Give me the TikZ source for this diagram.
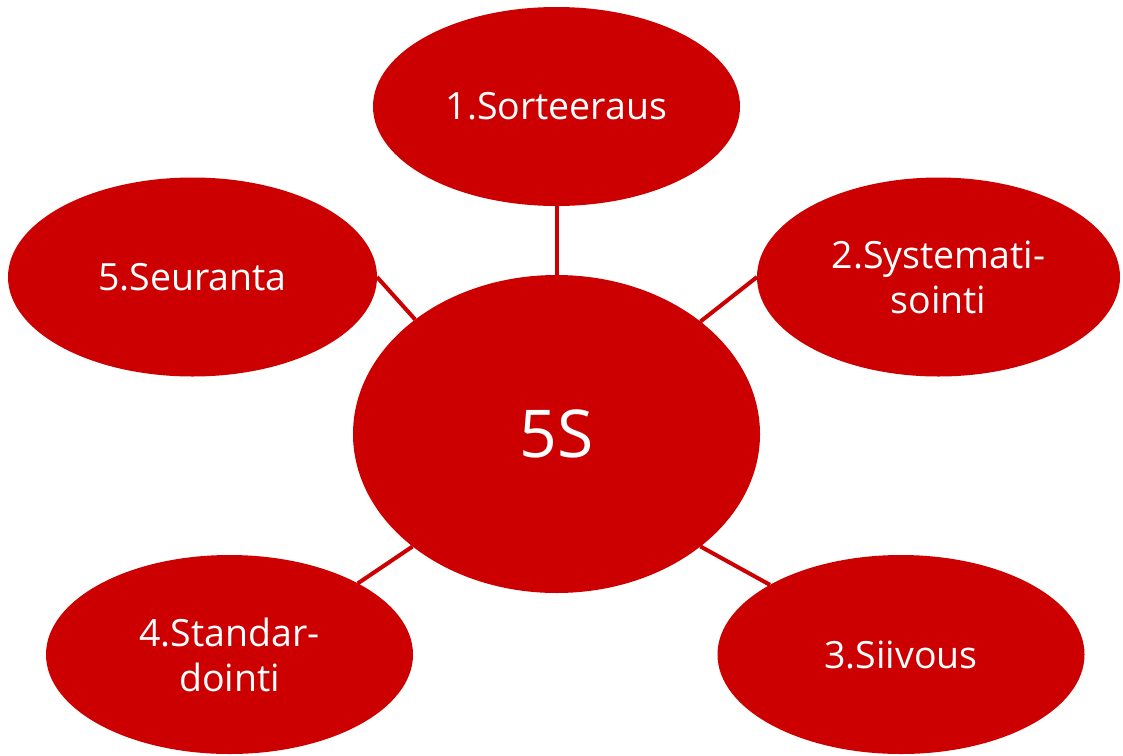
\documentclass[tikz,border=0pt]{standalone}
\usepackage{fontspec}
\setmainfont{Open Sans}
\usetikzlibrary{shapes.geometric}
\definecolor{bubblered}{RGB}{204,0,0}
\begin{document}
\begin{tikzpicture}[x=1pt,y=-1pt,
  bubble/.style={ellipse, fill=bubblered, text=white, inner sep=0pt, outer sep=0pt, align=center, font=\fontsize{37.5}{45}\selectfont},
  sat/.style={bubble, minimum width=367pt, minimum height=199pt},
  link/.style={draw=bubblered, line width=4pt}]
\useasboundingbox (0,0) rectangle (1123,755);
\node[bubble, minimum width=407pt, minimum height=318pt, font=\fontsize{66}{70}\selectfont] (main) at (556.5,434) {5S};
\node[sat] (s1) at (556.5,106.5) {1.Sorteeraus};
\node[sat, minimum width=363pt] (s2) at (938.5,277) {2.Systemati-\\sointi};
\node[sat] (s3) at (901,654.5) {3.Siivous};
\node[sat] (s4) at (229.5,654.5) {4.Standar-\\dointi};
\node[sat, minimum width=369pt] (s5) at (192.5,277) {5.Seuranta};
\draw[link] (main.90) -- (s1.270);
\draw[link] (main.38) -- (s2.180);
\draw[link] (main.322) -- (s3.152);
\draw[link] (main.218) -- (s4.29);
\draw[link] (main.141.5) -- (s5.0);
\end{tikzpicture}
\end{document}
